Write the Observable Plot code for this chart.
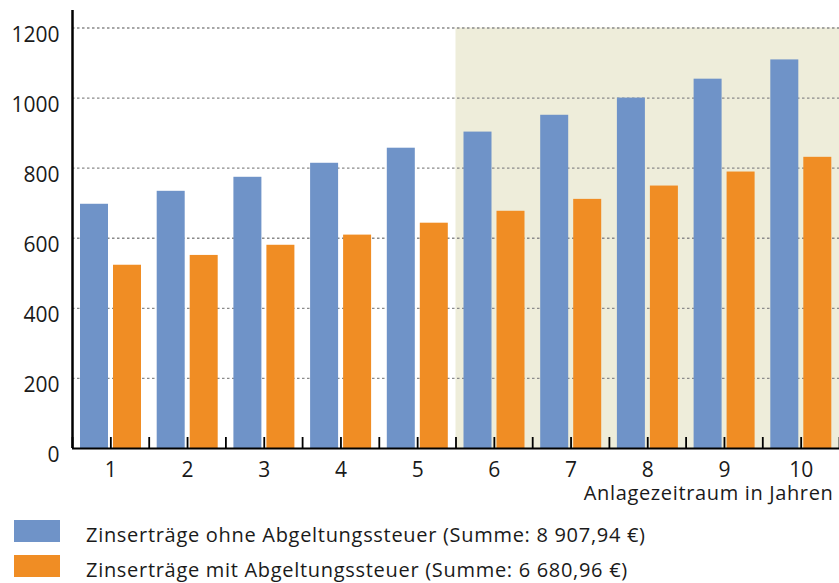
<!DOCTYPE html>
<html>
<head>
<meta charset="utf-8">
<script src="https://cdn.jsdelivr.net/npm/d3@7"></script>
<script src="https://cdn.jsdelivr.net/npm/@observablehq/plot@0.6"></script>
<style>
  body { margin: 0; background: #fff; font-family: "Open Sans", Roboto, sans-serif; }
  #wrap { position: relative; width: 839px; height: 583px; }
  .sw { position: absolute; left: 14px; width: 46px; height: 22px; }
  .lt { position: absolute; left: 86px; font-size: 20px; line-height: 22px; letter-spacing: 0.7px; color: #1a1a1a; white-space: nowrap; }
</style>
</head>
<body>
<div id="wrap"><div id="chart"></div></div>
<script>
// ---- data ----
const years = [1, 2, 3, 4, 5, 6, 7, 8, 9, 10];
const ohneSteuer = [697, 734, 774, 814, 857, 903, 951, 1000, 1054, 1109];
const mitSteuer  = [523, 551, 580, 609, 643, 677, 711, 749, 789, 831];
const yTicks = [0, 200, 400, 600, 800, 1000, 1200];
const shadedYears = [6, 10];
const shadeTop = 1200;
const xLabel = "Anlagezeitraum in Jahren";
const seriesNames = [
  "Zinserträge ohne Abgeltungssteuer (Summe: 8 907,94 €)",
  "Zinserträge mit Abgeltungssteuer (Summe: 6 680,96 €)"
];
const colors = ["#6F93C8", "#F08D24"];

const ohne = years.map((y, i) => ({year: y, value: ohneSteuer[i]}));
const mit = years.map((y, i) => ({year: y, value: mitSteuer[i]}));
const boundaries = [years[0] - 0.5, ...years.map(y => y + 0.5)];
const xTickPositions = [...years, ...boundaries];
const gridTicks = yTicks.filter(t => t > 0);

const W = 839, H = 505, mT = 10, mB = 57, tickLen = 11;

const chart = Plot.plot({
  width: W,
  height: H,
  marginLeft: 72,
  marginRight: 0,
  marginTop: mT,
  marginBottom: mB,
  style: {fontFamily: "'Open Sans', Roboto, sans-serif", fontSize: "21px", color: "#1a1a1a", background: "#fff"},
  x: {type: "linear", domain: [0.5, 10.5]},
  y: {domain: [0, 1250]},
  marks: [
    Plot.rect([{x1: shadedYears[0] - 0.5, x2: shadedYears[1] + 0.5, y1: 0, y2: shadeTop}],
      {x1: "x1", x2: "x2", y1: "y1", y2: "y2", fill: "#EEEDDA"}),
    Plot.ruleY(gridTicks, {stroke: "#8a8a8a", strokeWidth: 1.3, strokeDasharray: "2.5,2.5"}),
    Plot.rectY(ohne, {x1: d => d.year - 0.5, x2: d => d.year + 0.5, y: "value", fill: colors[0], insetLeft: 8, insetRight: 40.7}),
    Plot.rectY(mit, {x1: d => d.year - 0.5, x2: d => d.year + 0.5, y: "value", fill: colors[1], insetLeft: 41, insetRight: 7.7}),
    Plot.ruleX(xTickPositions, {x: d => d, stroke: "#000", strokeWidth: 1.8, insetTop: (H - mT - mB) - tickLen}),
    Plot.axisX(years, {tickSize: 0, tickPadding: 14, tickFormat: d => String(d), fill: "#1a1a1a", label: null}),
    Plot.axisY(yTicks, {tickSize: 0, tickPadding: 13, dy: 7, tickFormat: d => String(d), fill: "#1a1a1a", label: null}),
    Plot.ruleY([0], {stroke: "#000", strokeWidth: 2}),
    Plot.ruleX([boundaries[0]], {stroke: "#000", strokeWidth: 2.5}),
    Plot.text([xLabel], {frameAnchor: "bottom-right", text: d => d, textAnchor: "end", lineAnchor: "middle", dy: 45, dx: -6, fontSize: 20, fill: "#1a1a1a"})
  ]
});
d3.select(chart).selectAll("text").filter(function() { return this.textContent === xLabel; })
  .attr("letter-spacing", "0.65px");
document.getElementById("chart").appendChild(chart);

const wrap = document.getElementById("wrap");
seriesNames.forEach((name, i) => {
  const sw = document.createElement("div");
  sw.className = "sw";
  sw.style.top = (520 + i * 35) + "px";
  sw.style.background = colors[i];
  wrap.appendChild(sw);
  const t = document.createElement("div");
  t.className = "lt";
  t.style.top = (524 + i * 35) + "px";
  t.textContent = name;
  wrap.appendChild(t);
});
</script>
</body>
</html>
